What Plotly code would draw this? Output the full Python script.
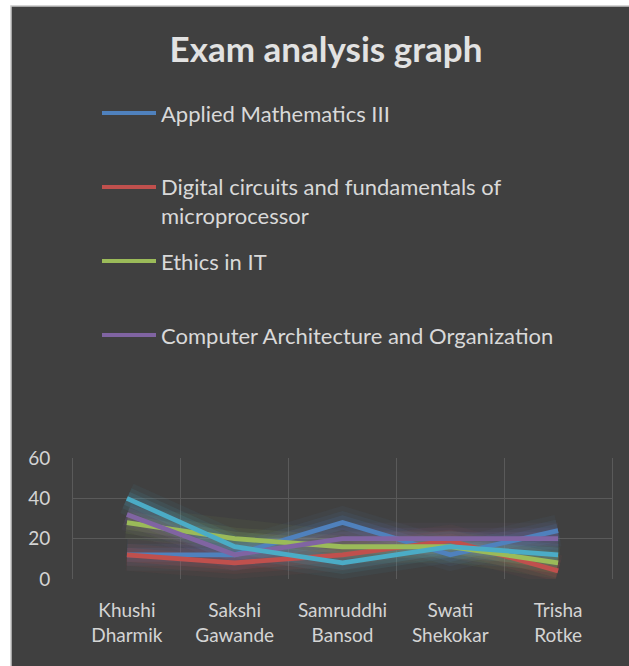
import plotly.graph_objects as go

# ---------------- data ----------------
students = ["Khushi<br>Dharmik", "Sakshi<br>Gawande", "Samruddhi<br>Bansod",
            "Swati<br>Shekokar", "Trisha<br>Rotke"]
series_names = ["Applied Mathematics III",
                "Digital circuits and fundamentals of microprocessor",
                "Ethics in IT",
                "Computer Architecture and Organization",
                "Computer Networks"]
legend_labels = ["Applied Mathematics III",
                 "Digital circuits and fundamentals of<br>microprocessor",
                 "Ethics in IT",
                 "Computer Architecture and Organization"]
applied_math = [12, 12, 28, 12, 24]
digital_circuits = [12, 8, 12, 19, 4]
ethics_it = [28, 20, 16, 16, 8]
comp_arch = [32, 12, 20, 20, 20]
comp_networks = [40, 16, 8, 16, 12]
series_values = [applied_math, digital_circuits, ethics_it, comp_arch, comp_networks]
colors = ["#4F81BD", "#C0504D", "#9BBB59", "#8064A2", "#4BACC6"]
in_legend = [True, True, True, True, False]
y_ticks = [0, 20, 40, 60]

# ---------------- layout geometry ----------------
W, H = 629, 666
L, R, T, B = 73, 17, 458, 87
PW, PH = W - L - R, H - T - B


def px(x):
    return (x - L) / PW


def py(y):
    return (H - B - y) / PH


def hex_rgba(h, a):
    h = h.lstrip("#")
    return "rgba(%d,%d,%d,%.3f)" % (int(h[0:2], 16), int(h[2:4], 16), int(h[4:6], 16), a)


fig = go.Figure()

# glow layers
for vals, col in zip(series_values, colors):
    for w, a in [(32, 0.06), (22, 0.09), (14, 0.14)]:
        fig.add_trace(go.Scatter(x=students, y=vals, mode="lines",
                                 line=dict(color=hex_rgba(col, a), width=w),
                                 hoverinfo="skip", showlegend=False))
# main lines
for name, vals, col in zip(series_names, series_values, colors):
    fig.add_trace(go.Scatter(x=students, y=vals, mode="lines", name=name,
                             line=dict(color=col, width=4.8), showlegend=False))

shapes = [dict(type="rect", xref="paper", yref="paper",
               x0=px(11), x1=px(640), y0=py(6), y1=py(680),
               fillcolor="#404040", line=dict(color="#c8c8c8", width=1.5),
               layer="below")]
annotations = []
legend_y = [113, 201, 261, 335]
swatch_y = [113, 187, 261, 335]
idx = 0
for i, col in enumerate(colors):
    if not in_legend[i]:
        continue
    shapes.append(dict(type="line", xref="paper", yref="paper",
                       x0=px(102), x1=px(156), y0=py(swatch_y[idx]), y1=py(swatch_y[idx]),
                       line=dict(color=col, width=4)))
    annotations.append(dict(xref="paper", yref="paper", x=px(159), y=py(legend_y[idx]),
                            xanchor="left", yanchor="middle", align="left",
                            text=legend_labels[idx], showarrow=False,
                            font=dict(family="Lato", size=22, color="#d9d9d9")))
    idx += 1

fig.update_layout(
    width=W, height=H,
    margin=dict(l=L, r=R, t=T, b=B),
    paper_bgcolor="white",
    plot_bgcolor="rgba(0,0,0,0)",
    showlegend=False,
    title=dict(text="<b>Exam analysis graph</b>", xref="container", yref="container",
               x=326 / W, y=1 - 50 / H, xanchor="center", yanchor="middle",
               font=dict(family="Lato", size=35, color="#e2e2e2")),
    shapes=shapes,
    annotations=annotations,
    xaxis=dict(type="category", tickson="boundaries", range=[-0.5, len(students) - 0.5],
               showgrid=True, gridcolor="#5a5a5a", gridwidth=1, ticks="", showline=False,
               zeroline=False, ticklabelstandoff=18,
               tickfont=dict(family="Lato", size=19, color="#d4d4d4")),
    yaxis=dict(range=[0, 60], tickvals=y_ticks, showgrid=True, gridcolor="#5a5a5a",
               gridwidth=1, zeroline=False, ticks="", showline=True, linecolor="#5a5a5a",
               mirror=True, ticklabelstandoff=18,
               tickfont=dict(family="Lato", size=19, color="#d4d4d4")),
)

fig.write_html("out.html", config={"displayModeBar": False},
               post_script="document.body.style.margin='0px';"
                           "document.body.style.overflow='hidden';")
